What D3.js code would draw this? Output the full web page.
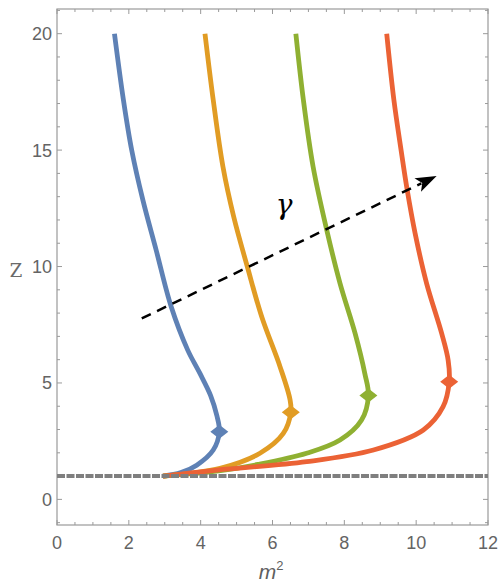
<!DOCTYPE html>
<html>
<head>
<meta charset="utf-8">
<title>m2 vs z</title>
<script src="https://d3js.org/d3.v7.min.js"></script>
<style>
  body { margin: 0; padding: 0; background: #fff; }
  svg { display: block; }
  .tick-label { font-family: "Liberation Sans", Arial, sans-serif; font-size: 18px; fill: #646464; }
</style>
</head>
<body>
<svg width="499" height="583"></svg>
<script>
// curve data, from the start point at z = 1 up to z = 20
var seriesNames = ['g1', 'g2', 'g3', 'g4'];
var seriesColors = ['#5e81b5', '#e19c24', '#8fb032', '#eb6235'];

var m2Blue = [2.95, 3.45, 3.89, 4.35, 4.52, 4.45, 4.28, 3.98, 3.64, 3.18, 2.76, 2.39, 2.08, 1.85, 1.60];
var zBlue  = [1.00, 1.15, 1.47, 2.12, 2.90, 3.60, 4.45, 5.41, 6.41, 8.27, 10.71, 12.86, 15.0, 17.15, 20.0];

var m2Orange = [2.95, 3.70, 4.54, 5.65, 6.30, 6.51, 6.49, 6.21, 5.70, 5.30, 4.92, 4.62, 4.35, 4.12];
var zOrange  = [1.00, 1.12, 1.33, 1.98, 2.83, 3.74, 4.27, 5.70, 7.84, 9.99, 12.14, 14.29, 17.15, 20.0];

var m2Green = [2.95, 4.50, 5.60, 6.95, 7.88, 8.48, 8.67, 8.57, 8.30, 7.88, 7.51, 7.13, 6.86, 6.65];
var zGreen  = [1.00, 1.22, 1.50, 1.98, 2.55, 3.41, 4.46, 5.41, 7.13, 9.28, 11.57, 14.29, 17.15, 20.0];

var m2Red = [2.95, 4.45, 6.95, 8.81, 10.20, 10.75, 10.92, 10.89, 10.71, 10.29, 9.97, 9.75, 9.58, 9.38, 9.18];
var zRed  = [1.00, 1.26, 1.62, 2.12, 2.98, 3.98, 5.05, 5.98, 7.13, 9.28, 11.43, 13.29, 15.0, 17.15, 20.0];

// diamond marker positions
var markerM2 = [4.52, 6.51, 8.67, 10.92];
var markerZ  = [2.90, 3.74, 4.46, 5.05];

// reference line and gamma arrow
var refZ = 1;
var arrowM2 = [2.36, 10.57];
var arrowZ  = [7.77, 13.89];

var xTicksMajor = [0, 2, 4, 6, 8, 10, 12];
var yTicksMajor = [0, 5, 10, 15, 20];

(function() {
  var svg = d3.select('svg');
  var pLeft = 57, pRight = 488, pTop = 9, pBottom = 525;

  var x = d3.scaleLinear().domain([0, 12]).range([pLeft, pRight]);
  var y = d3.scaleLinear().domain([-1.1, 21.06]).range([pBottom, pTop]);

  var frameColor = '#9a9a9a';

  // ticks on all four sides, pointing inward
  var xMinor = d3.range(0, 12.01, 0.5);
  var yMinor = d3.range(-1, 21.01, 1);

  function isMajorX(v) { return Math.abs(v / 2 - Math.round(v / 2)) < 1e-6; }
  function isMajorY(v) { return Math.abs(v / 5 - Math.round(v / 5)) < 1e-6; }

  var ticks = svg.append('g').attr('stroke', frameColor).attr('stroke-width', 1);
  xMinor.forEach(function(v) {
    var len = isMajorX(v) ? 5 : 3;
    ticks.append('line').attr('x1', x(v)).attr('x2', x(v)).attr('y1', pBottom).attr('y2', pBottom - len);
    ticks.append('line').attr('x1', x(v)).attr('x2', x(v)).attr('y1', pTop).attr('y2', pTop + len);
  });
  yMinor.forEach(function(v) {
    var len = isMajorY(v) ? 5 : 3;
    ticks.append('line').attr('y1', y(v)).attr('y2', y(v)).attr('x1', pLeft).attr('x2', pLeft + len);
    ticks.append('line').attr('y1', y(v)).attr('y2', y(v)).attr('x1', pRight).attr('x2', pRight - len);
  });

  svg.append('rect')
    .attr('x', pLeft).attr('y', pTop)
    .attr('width', pRight - pLeft).attr('height', pBottom - pTop)
    .attr('fill', 'none').attr('stroke', frameColor).attr('stroke-width', 1.2);

  // tick labels
  svg.selectAll('.xl').data(xTicksMajor).enter().append('text')
    .attr('class', 'tick-label')
    .attr('x', function(d) { return x(d); })
    .attr('y', 549)
    .attr('text-anchor', 'middle')
    .text(function(d) { return d; });

  svg.selectAll('.yl').data(yTicksMajor).enter().append('text')
    .attr('class', 'tick-label')
    .attr('x', 52)
    .attr('y', function(d) { return y(d) + 6.5; })
    .attr('text-anchor', 'end')
    .text(function(d) { return d; });

  // axis labels
  var xl = svg.append('text')
    .attr('x', 271).attr('y', 579)
    .attr('text-anchor', 'middle')
    .style('font-family', '"Liberation Sans", Arial, sans-serif')
    .style('font-style', 'italic')
    .style('font-size', '21px')
    .style('fill', '#5f5f5f');
  xl.append('tspan').text('m');
  xl.append('tspan').attr('dy', -9).style('font-size', '13px').style('font-style', 'normal').text('2');

  svg.append('text')
    .attr('x', 16).attr('y', 277)
    .attr('text-anchor', 'middle')
    .style('font-family', '"DejaVu Serif", "Liberation Serif", serif')
    .style('font-size', '18px')
    .style('fill', '#6a6a6a')
    .text('Z');

  // curves
  var line = d3.line()
    .x(function(d) { return x(d[0]); })
    .y(function(d) { return y(d[1]); })
    .curve(d3.curveCatmullRom.alpha(0.5));

  var m2All = [m2Blue, m2Orange, m2Green, m2Red];
  var zAll = [zBlue, zOrange, zGreen, zRed];

  seriesNames.forEach(function(name, i) {
    var pts = m2All[i].map(function(v, j) { return [v, zAll[i][j]]; });
    svg.append('path')
      .datum(pts)
      .attr('d', line)
      .attr('fill', 'none')
      .attr('stroke', seriesColors[i])
      .attr('stroke-width', 4.8)
      .attr('stroke-linejoin', 'round');
  });

  // diamond markers
  seriesNames.forEach(function(name, i) {
    var cx = x(markerM2[i]), cy = y(markerZ[i]);
    svg.append('path')
      .attr('d', 'M' + (cx - 9) + ',' + cy + 'L' + cx + ',' + (cy - 7) + 'L' + (cx + 9) + ',' + cy + 'L' + cx + ',' + (cy + 7) + 'Z')
      .attr('fill', seriesColors[i]);
  });

  // dashed reference line at z = 1
  svg.append('line')
    .attr('x1', pLeft).attr('x2', pRight)
    .attr('y1', y(refZ)).attr('y2', y(refZ))
    .attr('stroke', '#7f7f7f')
    .attr('stroke-width', 4)
    .attr('stroke-dasharray', '8,1.5');

  // gamma arrow
  var ax1 = x(arrowM2[0]), ay1 = y(arrowZ[0]);
  var ax2 = x(arrowM2[1]), ay2 = y(arrowZ[1]);
  var ang = Math.atan2(ay2 - ay1, ax2 - ax1);
  var headLen = 21;
  var bx = ax2 - headLen * Math.cos(ang), by = ay2 - headLen * Math.sin(ang);
  svg.append('line')
    .attr('x1', ax1).attr('y1', ay1)
    .attr('x2', bx + 4 * Math.cos(ang)).attr('y2', by + 4 * Math.sin(ang))
    .attr('stroke', '#000')
    .attr('stroke-width', 2.5)
    .attr('stroke-dasharray', '10,7');

  var head = [[0, 0], [-headLen, -7.5], [-headLen + 5, 0], [-headLen, 7.5]];
  svg.append('path')
    .attr('d', 'M' + head.map(function(p) { return p.join(','); }).join('L') + 'Z')
    .attr('transform', 'translate(' + ax2 + ',' + ay2 + ') rotate(' + (ang * 180 / Math.PI) + ')')
    .attr('fill', '#000');

  svg.append('text')
    .attr('x', 284).attr('y', 214)
    .attr('text-anchor', 'middle')
    .style('font-family', '"DejaVu Serif", "Liberation Serif", serif')
    .style('font-style', 'italic')
    .style('font-size', '28px')
    .style('fill', '#000')
    .text('γ');
})();
</script>
</body>
</html>
